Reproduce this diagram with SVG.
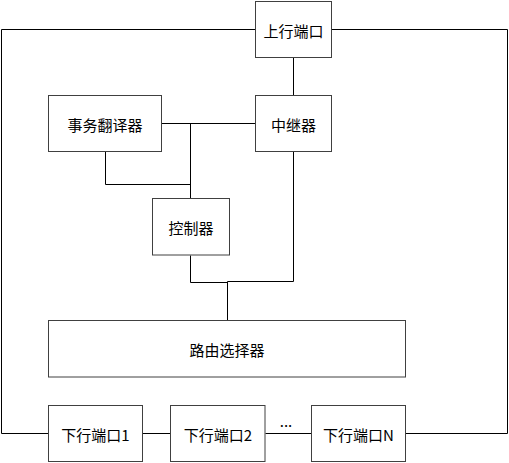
<svg xmlns="http://www.w3.org/2000/svg" width="509" height="463" viewBox="0 0 509 463">
<style>
.box{fill:#ffffff;stroke:#404040;stroke-width:1}
.ln{fill:none;stroke:#000000;stroke-width:1}
text{font-family:"Noto Sans CJK SC","Microsoft YaHei",sans-serif;font-size:15px;fill:#000;text-anchor:middle;dominant-baseline:central}
</style>
<rect width="509" height="463" fill="#ffffff"/>
<g id="connectors">
<polyline class="ln" points="255.5,29.5 1.5,29.5 1.5,433.5 48.5,433.5"/>
<polyline class="ln" points="331.5,29.5 507.5,29.5 507.5,433.5 405.5,433.5"/>
<line class="ln" x1="293.5" y1="57.5" x2="293.5" y2="95.5"/>
<line class="ln" x1="161.5" y1="123.5" x2="255.5" y2="123.5"/>
<line class="ln" x1="190.5" y1="123.5" x2="190.5" y2="198.5"/>
<polyline class="ln" points="105.5,151.5 105.5,184.5 190.5,184.5"/>
<polyline class="ln" points="190.5,255.5 190.5,282.5 227.5,282.5"/>
<polyline class="ln" points="293.5,151.5 293.5,281.5 227.5,281.5 227.5,320.5"/>
<line class="ln" x1="142.5" y1="433.5" x2="170.5" y2="433.5"/>
<line class="ln" x1="265.5" y1="433.5" x2="311.5" y2="433.5"/>
</g>
<g id="up-port"><rect class="box" x="255.5" y="1.5" width="76" height="56"/><text x="293.5" y="30">上行端口</text></g>
<g id="translator"><rect class="box" x="48.5" y="95.5" width="113" height="56"/><text x="105" y="124">事务翻译器</text></g>
<g id="repeater"><rect class="box" x="255.5" y="95.5" width="76" height="56"/><text x="293.5" y="124">中继器</text></g>
<g id="controller"><rect class="box" x="152.5" y="198.5" width="77" height="56.5"/><text x="191" y="227">控制器</text></g>
<g id="router"><rect class="box" x="48.5" y="320.5" width="357" height="56.5"/><text x="227" y="349">路由选择器</text></g>
<g id="down-port-1"><rect class="box" x="48.5" y="405.5" width="94" height="56"/><text x="95.5" y="434">下行端口1</text></g>
<g id="down-port-2"><rect class="box" x="170.5" y="405.5" width="94.5" height="56"/><text x="218" y="434">下行端口2</text></g>
<g id="down-port-n"><rect class="box" x="311.5" y="405.5" width="94" height="56"/><text x="358.5" y="434">下行端口N</text></g>
<text x="286" y="420">...</text>
</svg>
